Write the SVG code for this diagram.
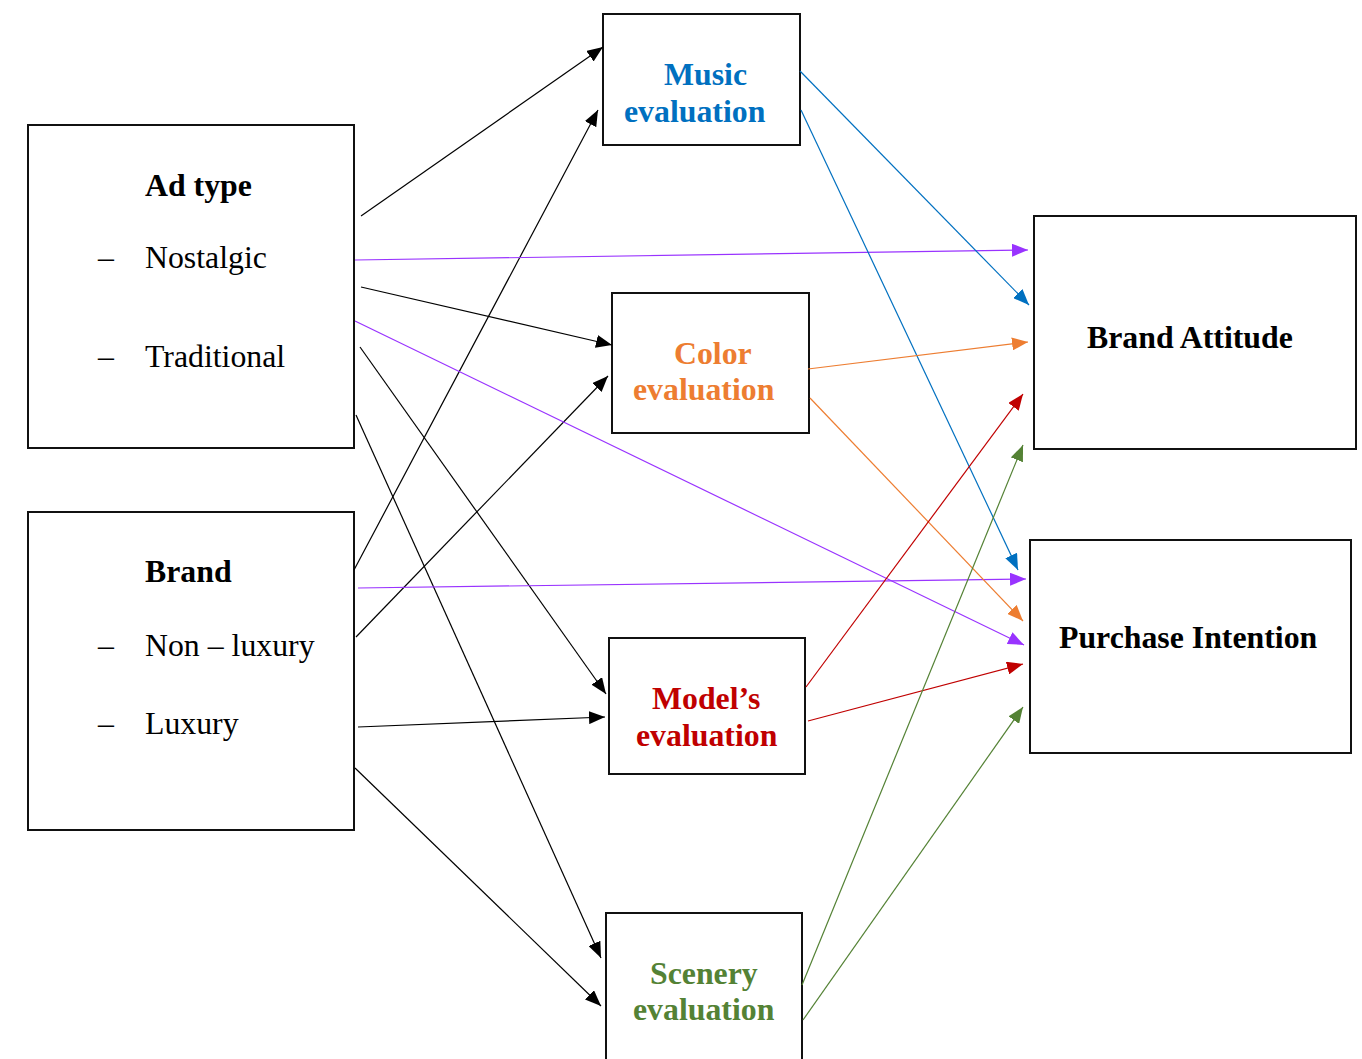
<svg xmlns="http://www.w3.org/2000/svg" width="1362" height="1059" viewBox="0 0 1362 1059">
<style>
.box{fill:#fff;stroke:#111;stroke-width:2}
.t{font-family:"Liberation Serif","Times New Roman",serif;font-size:31.8px;fill:#000}
.b{font-weight:bold}
.c{fill:none;stroke-width:1.2}
.k{stroke:#000}
.p{stroke:#9933FF}
.bl{stroke:#0070C0}
.o{stroke:#ED7D31}
.r{stroke:#C00000}
.g{stroke:#548235}
</style>
<defs>
<marker id="mk" markerUnits="userSpaceOnUse" markerWidth="17" markerHeight="13" refX="16" refY="6.5" orient="auto"><path d="M0,0 L16,6.5 L0,13 z" fill="#000"/></marker>
<marker id="mp" markerUnits="userSpaceOnUse" markerWidth="17" markerHeight="13" refX="16" refY="6.5" orient="auto"><path d="M0,0 L16,6.5 L0,13 z" fill="#9933FF"/></marker>
<marker id="mb" markerUnits="userSpaceOnUse" markerWidth="17" markerHeight="13" refX="16" refY="6.5" orient="auto"><path d="M0,0 L16,6.5 L0,13 z" fill="#0070C0"/></marker>
<marker id="mo" markerUnits="userSpaceOnUse" markerWidth="17" markerHeight="13" refX="16" refY="6.5" orient="auto"><path d="M0,0 L16,6.5 L0,13 z" fill="#ED7D31"/></marker>
<marker id="mr" markerUnits="userSpaceOnUse" markerWidth="17" markerHeight="13" refX="16" refY="6.5" orient="auto"><path d="M0,0 L16,6.5 L0,13 z" fill="#C00000"/></marker>
<marker id="mg" markerUnits="userSpaceOnUse" markerWidth="17" markerHeight="13" refX="16" refY="6.5" orient="auto"><path d="M0,0 L16,6.5 L0,13 z" fill="#548235"/></marker>
</defs>
<rect width="1362" height="1059" fill="#fff"/>

<g id="adtype">
<rect class="box" x="28" y="125" width="326" height="323"/>
<text class="t b" x="145" y="196">Ad type</text>
<text class="t" x="98" y="268">–</text>
<text class="t" x="145" y="268">Nostalgic</text>
<text class="t" x="98" y="367">–</text>
<text class="t" x="145" y="367">Traditional</text>
</g>

<g id="brand">
<rect class="box" x="28" y="512" width="326" height="318"/>
<text class="t b" x="145" y="582">Brand</text>
<text class="t" x="98" y="656">–</text>
<text class="t" x="145" y="656">Non – luxury</text>
<text class="t" x="98" y="734">–</text>
<text class="t" x="145" y="734">Luxury</text>
</g>

<g id="music">
<rect class="box" x="603" y="14" width="197" height="131"/>
<text class="t b" x="664" y="85" style="fill:#0070C0">Music</text>
<text class="t b" x="624" y="122" style="fill:#0070C0">evaluation</text>
</g>

<g id="color">
<rect class="box" x="612" y="293" width="197" height="140"/>
<text class="t b" x="674" y="364" style="fill:#ED7D31">Color</text>
<text class="t b" x="633" y="400" style="fill:#ED7D31">evaluation</text>
</g>

<g id="model">
<rect class="box" x="609" y="638" width="196" height="136"/>
<text class="t b" x="652" y="709" style="fill:#C00000">Model’s</text>
<text class="t b" x="636" y="746" style="fill:#C00000">evaluation</text>
</g>

<g id="scenery">
<rect class="box" x="606" y="913" width="196" height="160"/>
<text class="t b" x="650" y="984" style="fill:#548235">Scenery</text>
<text class="t b" x="633" y="1020" style="fill:#548235">evaluation</text>
</g>

<g id="brandattitude">
<rect class="box" x="1034" y="216" width="322" height="233"/>
<text class="t b" x="1087" y="348">Brand Attitude</text>
</g>

<g id="purchase">
<rect class="box" x="1030" y="540" width="321" height="213"/>
<text class="t b" x="1059" y="648">Purchase Intention</text>
</g>

<g id="connectors">
<line class="c k" x1="361" y1="216" x2="603" y2="47" marker-end="url(#mk)"/>
<line class="c k" x1="354" y1="570" x2="598" y2="110" marker-end="url(#mk)"/>
<line class="c k" x1="361" y1="287" x2="612" y2="345" marker-end="url(#mk)"/>
<line class="c k" x1="356" y1="637" x2="608" y2="376" marker-end="url(#mk)"/>
<line class="c k" x1="360" y1="347" x2="606" y2="694" marker-end="url(#mk)"/>
<line class="c k" x1="358" y1="727" x2="605" y2="717" marker-end="url(#mk)"/>
<line class="c k" x1="356" y1="415" x2="601" y2="958" marker-end="url(#mk)"/>
<line class="c k" x1="355" y1="768" x2="601" y2="1006" marker-end="url(#mk)"/>

<line class="c p" x1="355" y1="260" x2="1028" y2="250" marker-end="url(#mp)"/>
<line class="c p" x1="355" y1="321" x2="1024" y2="645" marker-end="url(#mp)"/>
<line class="c p" x1="358" y1="588" x2="1026" y2="579" marker-end="url(#mp)"/>

<line class="c bl" x1="800" y1="71" x2="1029" y2="305" marker-end="url(#mb)"/>
<line class="c bl" x1="801" y1="110" x2="1018" y2="570" marker-end="url(#mb)"/>

<line class="c o" x1="808" y1="369" x2="1028" y2="342" marker-end="url(#mo)"/>
<line class="c o" x1="810" y1="398" x2="1023" y2="621" marker-end="url(#mo)"/>

<line class="c r" x1="806" y1="687" x2="1023" y2="394" marker-end="url(#mr)"/>
<line class="c r" x1="808" y1="721" x2="1023" y2="664" marker-end="url(#mr)"/>

<line class="c g" x1="802" y1="985" x2="1023" y2="445" marker-end="url(#mg)"/>
<line class="c g" x1="803" y1="1020" x2="1023" y2="707" marker-end="url(#mg)"/>
</g>
</svg>
